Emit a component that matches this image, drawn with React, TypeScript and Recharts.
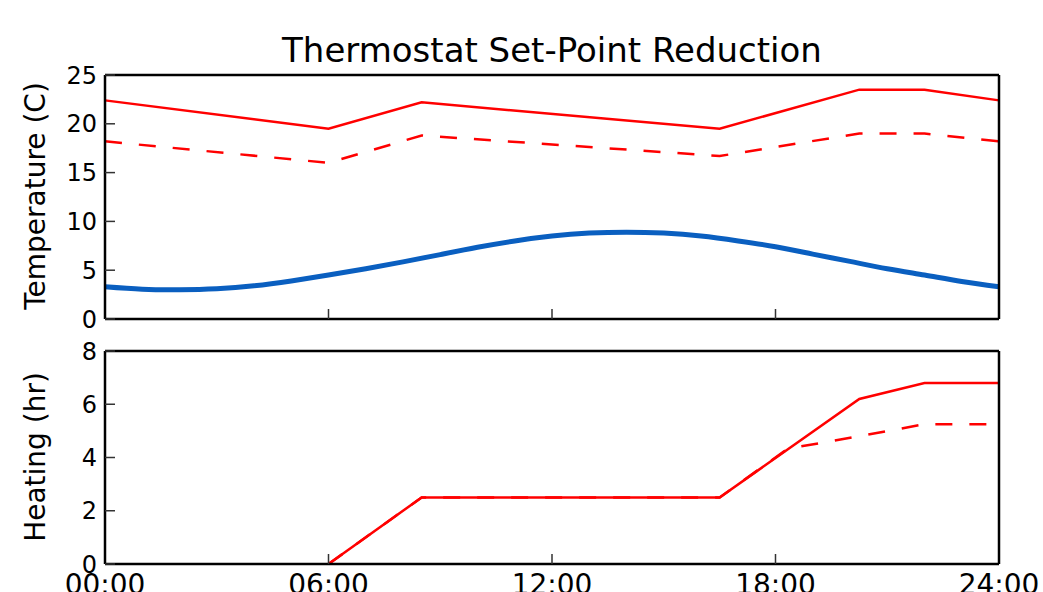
import React from "react"
import { LineChart, Line, XAxis, YAxis } from "recharts"

// set-point schedule (hour of day -> °C)
const setHours = [0, 6, 8.5, 16.5, 20.25, 22, 24]
const setPointNormal = [22.4, 19.5, 22.2, 19.5, 23.5, 23.5, 22.4]
const setPointReduced = [18.2, 16.0, 18.8, 16.7, 19.0, 19.0, 18.2]

// outdoor temperature, hourly
const outdoorHours = [0, 1, 2, 3, 4, 5, 6, 7, 8, 9, 10, 11, 12, 13, 14, 15, 16, 17, 18, 19, 20, 21, 22, 23, 24]
const outdoorTemp = [3.3, 3.05, 3.0, 3.1, 3.4, 3.9, 4.5, 5.15, 5.85, 6.6, 7.35, 8.0, 8.5, 8.8, 8.9, 8.8, 8.5, 8.0, 7.4, 6.65, 5.9, 5.15, 4.5, 3.85, 3.3]

// cumulative heating hours
const heatHours = [6, 8.5, 16.5, 20.25, 22, 24]
const heatNormal = [0, 2.5, 2.5, 6.2, 6.8, 6.8]
const heatReducedHours = [6, 8.5, 16.5, 18.33, 20.25, 22, 24]
const heatReduced = [0, 2.5, 2.5, 4.33, 4.8, 5.25, 5.25]

const xTicks = [0, 6, 12, 18, 24]
const xTickLabels = ["00:00", "06:00", "12:00", "18:00", "24:00"]
const tempTicks = [0, 5, 10, 15, 20, 25]
const heatTicks = [0, 2, 4, 6, 8]

const FONT = "DejaVu Sans"
const RED = "#ff0000"
const BLUE = "#0a5fc0"

const pts = (xs: number[], ys: number[]) => xs.map((h, i) => ({ h, v: ys[i] }))

const spine = { stroke: "#000", strokeWidth: 2.5 }
const tickLine = { stroke: "#333", strokeWidth: 1.5 }
const tickFont = { fill: "#000", fontSize: 24, fontFamily: FONT }
const xTickFont = { fill: "#000", fontSize: 28, fontFamily: FONT }
const blank = () => ""

// four spines with inward ticks, like the matplotlib box
function axes(yTicks: number[], yMax: number, showX: boolean) {
  return [
    <XAxis
      key="xb"
      xAxisId="b"
      type="number"
      dataKey="h"
      domain={[0, 24]}
      ticks={xTicks}
      interval={0}
      height={showX ? 28 : 1}
      axisLine={spine}
      tickLine={tickLine}
      tickSize={-10}
      tickMargin={20}
      tick={xTickFont}
      tickFormatter={showX ? (v: number) => xTickLabels[xTicks.indexOf(v)] : blank}
    />,
    <XAxis
      key="xt"
      xAxisId="t"
      orientation="top"
      type="number"
      dataKey="h"
      domain={[0, 24]}
      ticks={xTicks}
      interval={0}
      height={1}
      axisLine={spine}
      tickLine={tickLine}
      tickSize={-10}
      tick={tickFont}
      tickFormatter={blank}
    />,
    <YAxis
      key="yl"
      yAxisId="l"
      type="number"
      domain={[0, yMax]}
      ticks={yTicks}
      interval={0}
      width={105}
      axisLine={spine}
      tickLine={tickLine}
      tickSize={-10}
      tickMargin={18}
      tick={tickFont}
    />,
    <YAxis
      key="yr"
      yAxisId="r"
      orientation="right"
      type="number"
      domain={[0, yMax]}
      ticks={yTicks}
      interval={0}
      width={1}
      axisLine={spine}
      tickLine={tickLine}
      tickSize={-10}
      tick={tickFont}
      tickFormatter={blank}
    />,
  ]
}

export default function App() {
  return (
    <div style={{ position: "absolute", left: 0, top: 0, width: 1043, height: 592, overflow: "hidden", background: "#fff" }}>
      <div style={{ position: "absolute", left: 0, top: 0 }}>
        <LineChart width={1043} height={330} margin={{ top: 74, right: 43, bottom: 10, left: 0 }}>
          {axes(tempTicks, 25, false)}
          <Line data={pts(setHours, setPointNormal)} xAxisId="b" yAxisId="l" dataKey="v" type="linear" stroke={RED} strokeWidth={2.5} dot={false} isAnimationActive={false} />
          <Line data={pts(setHours, setPointReduced)} xAxisId="b" yAxisId="l" dataKey="v" type="linear" stroke={RED} strokeWidth={2.5} strokeDasharray="17 17" dot={false} isAnimationActive={false} />
          <Line data={pts(outdoorHours, outdoorTemp)} xAxisId="b" yAxisId="l" dataKey="v" type="natural" stroke={BLUE} strokeWidth={5} dot={false} isAnimationActive={false} />
        </LineChart>
      </div>
      <div style={{ position: "absolute", left: 0, top: 330 }}>
        <LineChart width={1043} height={262} margin={{ top: 20, right: 43, bottom: 0, left: 0 }}>
          {axes(heatTicks, 8, true)}
          <Line data={pts(heatReducedHours, heatReduced)} xAxisId="b" yAxisId="l" dataKey="v" type="linear" stroke={RED} strokeWidth={2.5} strokeDasharray="17 17" dot={false} isAnimationActive={false} />
          <Line data={pts(heatHours, heatNormal)} xAxisId="b" yAxisId="l" dataKey="v" type="linear" stroke={RED} strokeWidth={2.5} dot={false} isAnimationActive={false} />
        </LineChart>
      </div>
      <svg width={1043} height={592} style={{ position: "absolute", left: 0, top: 0, pointerEvents: "none" }}>
        <text x={552} y={62} textAnchor="middle" fontFamily={FONT} fontSize={34} fill="#000">
          Thermostat Set-Point Reduction
        </text>
        <text x={45} y={196} transform="rotate(-90 45 196)" textAnchor="middle" fontFamily={FONT} fontSize={28} fill="#000">
          Temperature (C)
        </text>
        <text x={45} y={457} transform="rotate(-90 45 457)" textAnchor="middle" fontFamily={FONT} fontSize={28} fill="#000">
          Heating (hr)
        </text>
      </svg>
    </div>
  )
}
